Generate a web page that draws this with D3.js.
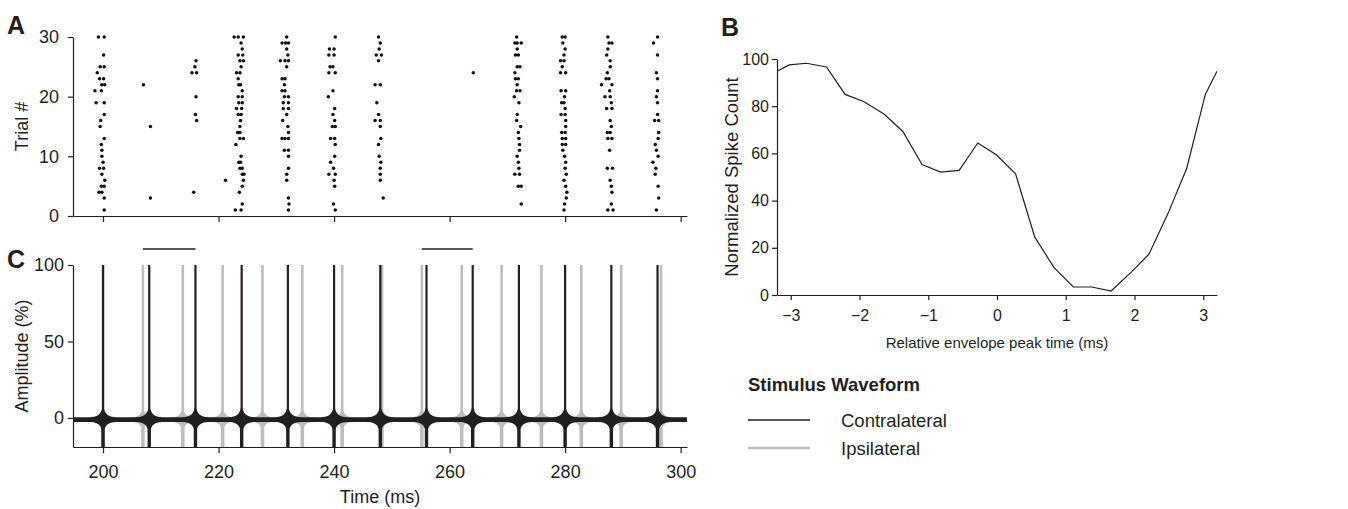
<!DOCTYPE html>
<head>
<meta charset="utf-8">
<script src="https://d3js.org/d3.v7.min.js"></script>
<style>
  body { margin: 0; background: #fff; }
  text { font-family: "Liberation Sans", Arial, Helvetica, sans-serif; fill: #231f20; }
  .panel { font-weight: bold; font-size: 25px; }
  .axis path, .axis line { stroke: #231f20; stroke-width: 1.2; }
</style>
</head>
<body>
<script>
// spike raster, [time (ms), trial #]
var spikeRaster = [
  [199.2,30],[200.2,30],[200.1,27],[199.5,25],[200.2,25],[199.0,24],[199.4,23],[200.1,23],[199.8,22],[200.3,22],
  [198.6,21],[199.7,21],[198.8,19],[200.2,19],[200.2,17],[199.6,16],[199.5,15],[200.2,13],[199.7,12],[199.8,11],
  [199.8,10],[200.0,9],[199.4,8],[200.1,8],[199.8,7],[200.3,6],[199.7,5],[200.2,5],[199.3,4],[199.8,4],[200.2,3],[200.2,1],
  [207.0,22],[208.2,15],[208.2,3],
  [216.1,26],[215.9,25],[215.4,24],[216.2,24],[216.1,20],[216.0,17],[216.2,16],[215.7,4],
  [221.2,6],
  [222.7,30],[223.4,30],[224.3,30],[223.9,29],[224.1,28],[223.4,27],[224.2,27],[223.7,26],[224.3,26],[223.9,25],
  [223.1,24],[223.7,24],[223.4,23],[223.5,22],[223.8,22],[224.1,21],[223.4,20],[224.1,20],[223.5,19],[224.1,19],
  [223.1,18],[224.0,18],[223.4,17],[223.9,17],[223.8,16],[223.7,15],[223.3,14],[223.7,14],[223.7,13],[224.3,13],
  [223.0,12],[223.9,10],[223.5,9],[223.8,9],[223.7,8],[224.1,8],[224.1,7],[224.4,7],[224.3,6],[224.1,5],[223.6,4],
  [224.1,2],[222.9,1],[223.9,1],
  [231.8,30],[231.0,29],[231.6,29],[232.1,29],[231.8,28],[232.0,27],[230.7,26],[231.5,26],[232.1,26],[231.8,25],
  [231.0,23],[231.5,23],[231.4,22],[231.0,21],[231.5,21],[231.4,20],[232.1,20],[231.2,19],[232.1,19],[231.2,18],
  [232.1,18],[231.8,17],[231.1,16],[232.0,15],[232.1,14],[231.0,13],[231.5,13],[232.1,13],[231.4,11],[232.1,11],
  [232.1,10],[232.1,8],[231.8,7],[231.8,6],[232.1,3],[232.2,2],[232.1,1],
  [240.2,30],[239.2,28],[240.0,28],[239.1,27],[240.0,27],[239.3,25],[239.8,25],[239.1,24],[240.2,24],[239.8,21],
  [239.0,20],[240.1,18],[239.8,17],[240.1,16],[239.7,15],[240.2,15],[239.4,13],[240.1,13],[240.2,12],[240.1,10],
  [239.4,9],[239.9,8],[239.1,7],[240.2,7],[240.0,6],[240.1,5],[239.9,2],[240.2,1],
  [247.7,30],[248.0,29],[247.8,28],[247.3,27],[248.2,27],[247.7,26],[247.1,22],[248.0,22],[247.4,19],[247.7,17],
  [247.1,16],[248.0,16],[248.0,15],[248.1,13],[247.7,12],[247.8,10],[248.1,9],[248.0,8],[248.0,7],[248.0,6],[248.5,3],
  [264.1,24],
  [271.6,30],[271.3,29],[271.7,29],[272.4,29],[271.7,28],[271.4,27],[271.9,27],[271.7,25],[272.2,25],[271.3,24],
  [271.4,23],[271.9,23],[271.7,22],[271.6,21],[272.2,21],[271.2,20],[272.0,19],[271.7,17],[271.6,16],[272.3,15],
  [271.9,14],[272.0,13],[272.1,12],[272.1,11],[271.7,10],[271.9,9],[272.0,8],[271.3,7],[272.1,7],[271.9,5],[272.4,5],[272.4,2],
  [279.5,30],[280.0,30],[279.6,29],[280.0,28],[279.8,27],[279.2,26],[279.8,26],[279.5,25],[279.2,24],[280.1,24],
  [279.3,21],[280.1,21],[279.9,20],[279.4,19],[279.8,19],[280.0,18],[279.3,17],[280.0,17],[280.1,16],[280.1,15],
  [279.4,14],[280.0,14],[279.5,13],[280.1,13],[279.5,12],[280.1,12],[279.6,11],[279.9,10],[280.1,9],[280.0,8],
  [280.2,7],[279.8,6],[280.1,5],[280.3,4],[280.2,3],[279.9,2],[279.8,1],
  [287.4,30],[287.6,29],[288.1,29],[287.4,28],[287.2,27],[287.8,26],[287.8,25],[287.3,24],[287.1,23],[287.6,23],
  [286.3,22],[288.1,22],[287.7,21],[286.9,20],[287.8,20],[288.0,19],[287.2,18],[288.1,18],[287.8,16],[288.0,15],
  [287.3,14],[287.8,14],[287.4,13],[288.1,13],[287.7,11],[287.3,8],[288.2,8],[287.8,6],[288.0,5],[288.1,4],[288.0,2],
  [287.4,1],[288.3,1],
  [296.0,30],[295.3,29],[296.0,27],[295.8,24],[296.0,23],[296.0,21],[295.8,20],[296.0,19],[296.0,17],[295.5,16],
  [296.2,16],[296.2,14],[296.1,13],[295.6,12],[295.8,11],[296.1,10],[295.2,9],[295.7,8],[295.6,7],[296.1,5],[296.2,3],[295.8,1]
]

// click (envelope peak) times of the two ears, ms
var contraTimes = [200, 208, 216, 224, 232, 240, 248, 256, 264, 272, 280, 288, 296]
var ipsiTimes = [200.0, 206.9, 213.8, 220.7, 227.6, 234.5, 241.4, 248.3, 255.2, 262.1, 269.0, 275.9, 282.8, 289.7, 296.6]
// ringing around each click: [ms from peak, half amplitude %]
var clickEnvelope = [[-2.2,1.5],[-1.4,2.0],[-0.9,2.8],[-0.55,4.0],[-0.3,5.6],[-0.12,7.4],[0,8.4],[0.12,7.4],[0.3,5.6],[0.55,4.0],[0.9,2.8],[1.4,2.0],[2.2,1.5]]
var markerSpans = [[206.9, 216.0], [255.2, 264.0]]

// panel B
var peakTime = [-3.2, -3.02, -2.77, -2.48, -2.21, -1.94, -1.64, -1.37, -1.09, -0.82, -0.55, -0.28, -0.01, 0.27, 0.55, 0.83, 1.11, 1.38, 1.66, 1.96, 2.21, 2.49, 2.76, 3.03, 3.2]
var spikeCount = [94.8, 97.5, 98.2, 96.6, 85.0, 82.0, 76.6, 69.3, 55.3, 52.1, 52.8, 64.4, 59.4, 51.3, 24.5, 11.6, 3.4, 3.4, 1.7, 9.9, 17.3, 34.7, 53.7, 85.0, 94.8]

var timeTicks = [200, 220, 240, 260, 280, 300]
var trialTicks = [0, 10, 20, 30]
var ampTicks = [0, 50, 100]
var peakTicks = [-3, -2, -1, 0, 1, 2, 3]
var countTicks = [0, 20, 40, 60, 80, 100]
var legendLabels = ["Contralateral", "Ipsilateral"]
var legendColors = ["#231f20", "#bdbdbd"]

var svg = d3.select("body").append("svg")
  .attr("width", 1348)
  .attr("height", 509)

var xT = d3.scaleLinear().domain([194.8, 301.1]).range([73, 687])
var yTrial = d3.scaleLinear().domain([0, 30]).range([216, 37])
var yAmp = d3.scaleLinear().domain([-19, 100]).range([447, 265])
var xB = d3.scaleLinear().domain([-3.2, 3.2]).range([777, 1217])
var yB = d3.scaleLinear().domain([0, 100]).range([295, 59])

function styleAxis(g, size) {
  g.classed("axis", true).attr("font-size", size)
}

// ---- A: raster
svg.append("g")
  .attr("transform", "translate(0," + yTrial(0) + ")")
  .call(d3.axisBottom(xT).tickValues(timeTicks).tickSize(6).tickSizeOuter(0).tickFormat(""))
  .call(styleAxis, 18)
svg.append("g")
  .attr("transform", "translate(" + xT.range()[0] + ",0)")
  .call(d3.axisLeft(yTrial).tickValues(trialTicks).tickSize(5).tickPadding(9).tickSizeOuter(0))
  .call(styleAxis, 18)

svg.append("g").selectAll("circle")
  .data(spikeRaster)
  .enter().append("circle")
  .attr("cx", function(d) { return xT(d[0]) })
  .attr("cy", function(d) { return yTrial(d[1]) })
  .attr("r", 1.75)
  .attr("fill", "#111")

svg.append("text").attr("transform", "translate(28," + (yTrial(15)) + ") rotate(-90)")
  .attr("text-anchor", "middle").attr("font-size", 18).text("Trial #")
svg.append("text").attr("class", "panel").attr("x", 7).attr("y", 34).text("A")

// ---- C: stimulus waveform
svg.append("clipPath").attr("id", "clipC").append("rect")
  .attr("x", xT.range()[0]).attr("y", yAmp(100) - 2)
  .attr("width", xT.range()[1] - xT.range()[0]).attr("height", yAmp(-19) - yAmp(100) + 2)

var wave = svg.append("g").attr("clip-path", "url(#clipC)")
var blobCenter = -1.1

function drawClicks(times, color, upWidth, downWidth, scaleEnv) {
  var layer = wave.append("g")
  var blob = d3.area()
    .curve(d3.curveCatmullRom)
    .x(function(e) { return e.x })
    .y0(function(e) { return yAmp(blobCenter - e.h) })
    .y1(function(e) { return yAmp(blobCenter + e.h) })
  layer.selectAll(".blob").data(times).enter().append("path")
    .attr("fill", color)
    .attr("d", function(t) {
      return blob(clickEnvelope.map(function(e) { return { x: xT(t + e[0]), h: e[1] * scaleEnv } }))
    })
  layer.selectAll(".up").data(times).enter().append("line")
    .attr("x1", function(t) { return xT(t) }).attr("x2", function(t) { return xT(t) })
    .attr("y1", yAmp(0)).attr("y2", yAmp(100))
    .attr("stroke", color).attr("stroke-width", upWidth)
  layer.selectAll(".down").data(times).enter().append("line")
    .attr("x1", function(t) { return xT(t) }).attr("x2", function(t) { return xT(t) })
    .attr("y1", yAmp(0)).attr("y2", yAmp(-19))
    .attr("stroke", color).attr("stroke-width", downWidth)
}

drawClicks(ipsiTimes, legendColors[1], 2.6, 3.6, 0.85)
// continuous low-level carrier along the baseline
wave.append("path")
  .attr("fill", legendColors[0])
  .attr("d", d3.area()
    .x(function(d) { return xT(d) })
    .y0(yAmp(blobCenter - 1.5))
    .y1(yAmp(blobCenter + 1.5))(xT.domain()))
drawClicks(contraTimes, legendColors[0], 2.2, 3.4, 1)

svg.append("g").selectAll("line")
  .data(markerSpans)
  .enter().append("line")
  .attr("x1", function(d) { return xT(d[0]) })
  .attr("x2", function(d) { return xT(d[1]) })
  .attr("y1", 249).attr("y2", 249)
  .attr("stroke", "#231f20").attr("stroke-width", 1.3)

svg.append("g")
  .attr("transform", "translate(0," + yAmp(-19) + ")")
  .call(d3.axisBottom(xT).tickValues(timeTicks).tickSize(6).tickPadding(12).tickSizeOuter(0))
  .call(styleAxis, 18)
svg.append("g")
  .attr("transform", "translate(" + xT.range()[0] + ",0)")
  .call(d3.axisLeft(yAmp).tickValues(ampTicks).tickSize(5).tickPadding(4).tickSizeOuter(0))
  .call(styleAxis, 18)

svg.append("text").attr("x", d3.mean(xT.range())).attr("y", 503)
  .attr("text-anchor", "middle").attr("font-size", 18).text("Time (ms)")
svg.append("text").attr("transform", "translate(28," + yAmp(40.5) + ") rotate(-90)")
  .attr("text-anchor", "middle").attr("font-size", 18).text("Amplitude (%)")
svg.append("text").attr("class", "panel").attr("x", 7).attr("y", 268).text("C")

// ---- B: spike count vs envelope peak time
svg.append("clipPath").attr("id", "clipB").append("rect")
  .attr("x", xB.range()[0]).attr("y", yB(100) - 5)
  .attr("width", xB.range()[1] - xB.range()[0]).attr("height", yB(0) - yB(100) + 5)

svg.append("path")
  .datum(peakTime)
  .attr("clip-path", "url(#clipB)")
  .attr("fill", "none")
  .attr("stroke", "#231f20")
  .attr("stroke-width", 1.2)
  .attr("d", d3.line()
    .x(function(d) { return xB(d) })
    .y(function(d, i) { return yB(spikeCount[i]) }))

svg.append("g")
  .attr("transform", "translate(0," + yB(0) + ")")
  .call(d3.axisBottom(xB).tickValues(peakTicks).tickSize(5).tickPadding(10).tickSizeOuter(0).tickFormat(d3.format("d")))
  .call(styleAxis, 16)
svg.append("g")
  .attr("transform", "translate(" + xB.range()[0] + ",0)")
  .call(d3.axisLeft(yB).tickValues(countTicks).tickSize(5).tickPadding(3).tickSizeOuter(0))
  .call(styleAxis, 16)

svg.append("text").attr("x", d3.mean(xB.range())).attr("y", 348)
  .attr("text-anchor", "middle").attr("font-size", 15).text("Relative envelope peak time (ms)")
svg.append("text").attr("transform", "translate(738," + yB(50) + ") rotate(-90)")
  .attr("text-anchor", "middle").attr("font-size", 18.5).text("Normalized Spike Count")
svg.append("text").attr("class", "panel").attr("x", 721).attr("y", 36).text("B")

// ---- legend
var legend = svg.append("g").attr("transform", "translate(748,391)")
legend.append("text").attr("font-weight", "bold").attr("font-size", 18.5).text("Stimulus Waveform")
var items = legend.selectAll(".item")
  .data(legendLabels)
  .enter().append("g")
  .attr("transform", function(d, i) { return "translate(0," + (29 + i * 28) + ")" })
items.append("line")
  .attr("x1", 0).attr("x2", 62)
  .attr("stroke", function(d, i) { return legendColors[i] })
  .attr("stroke-width", function(d, i) { return i ? 2.4 : 1.4 })
items.append("text")
  .attr("x", 93).attr("y", 7)
  .attr("font-size", 18.5)
  .text(function(d) { return d })
</script>
</body>
